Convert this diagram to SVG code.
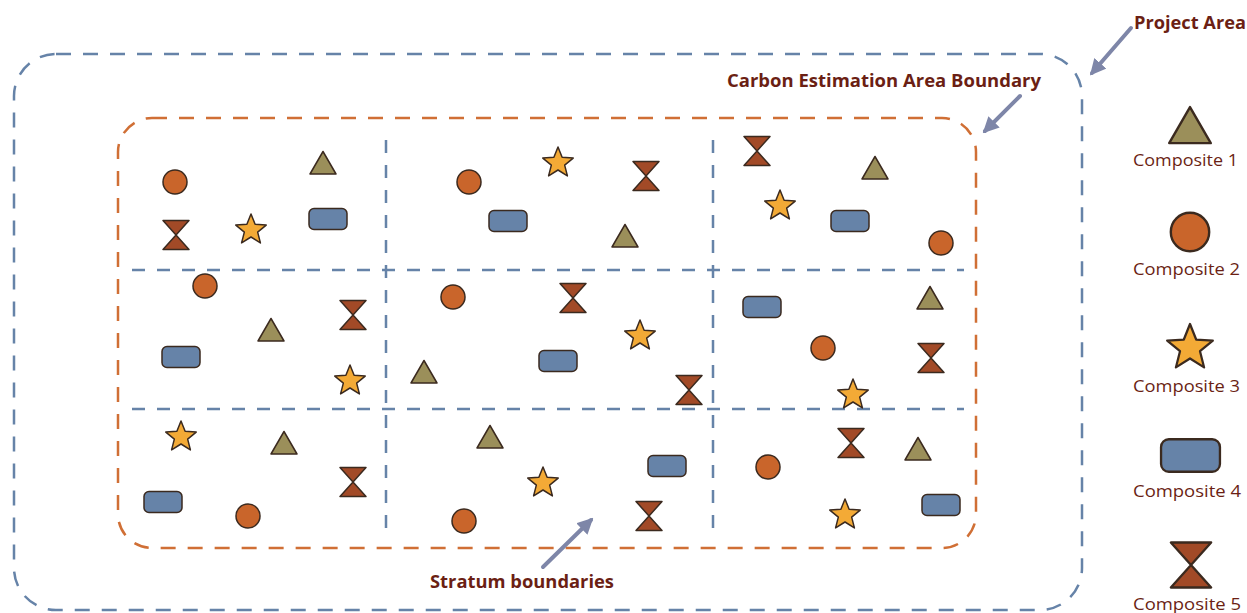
<svg xmlns="http://www.w3.org/2000/svg" xmlns:xlink="http://www.w3.org/1999/xlink" width="1247" height="613" viewBox="0 0 1247 613">
<style>
.sh{stroke:#3b2a1f;stroke-width:1.5;stroke-linejoin:round}
.tri{fill:#9b8f5a}.cir{fill:#c9652b}.sta{fill:#f3aa36}.rec{fill:#6683a8}.hg{fill:#a24a27}
.grid{fill:none;stroke:#6683a8;stroke-width:2.5;stroke-dasharray:13 12}
.outer{fill:none;stroke:#6683a8;stroke-width:2.5;stroke-dasharray:15 12}
.cea{fill:none;stroke:#d06f35;stroke-width:2.5;stroke-dasharray:15 12}
.arr{stroke:#7e86a8;stroke-width:4;fill:none;stroke-linecap:round}
.lbl{font-family:"Open Sans","Liberation Sans",sans-serif;font-weight:700;fill:#6b1f14;font-size:17px}
.leg{font-family:"Open Sans","Liberation Sans",sans-serif;fill:#6b1f14;font-size:16px}
</style>
<defs>
<path id="tri" class="sh tri" d="M0,-11.5 L13,11 L-13,11 Z"/>
<circle id="cir" class="sh cir" r="12"/>
<path id="sta" class="sh sta" d="M0,-16 L4.11,-5.66 L15.22,-4.94 L6.66,2.16 L9.4,12.94 L0,7 L-9.4,12.94 L-6.66,2.16 L-15.22,-4.94 L-4.11,-5.66 Z"/>
<rect id="rec" class="sh rec" x="-19" y="-10.5" width="38" height="21" rx="5"/>
<path id="hg" class="sh hg" d="M-13,-14.5 L13,-14.5 L0,0 L13,14.5 L-13,14.5 L0,0 Z"/>
<marker id="ah" viewBox="0 0 10 10" refX="8" refY="5" markerWidth="4" markerHeight="4" orient="auto" markerUnits="strokeWidth">
<path d="M0,0 L10,5 L0,10 Z" fill="#7e86a8"/>
</marker>
</defs>
<g id="project-area">
<rect class="outer" x="14" y="54" width="1068" height="556" rx="42"/>
</g>
<g id="carbon-estimation-area">
<rect class="cea" x="118" y="118" width="858" height="430" rx="34"/>
</g>
<g id="strata">
<line class="grid" x1="386" y1="140" x2="386" y2="530"/>
<line class="grid" x1="713" y1="140" x2="713" y2="530"/>
<line class="grid" x1="132" y1="270" x2="964" y2="270"/>
<line class="grid" x1="132" y1="409" x2="964" y2="409"/>
</g>
<g id="samples">
<use href="#cir" x="175" y="182"/><use href="#tri" x="323" y="163"/><use href="#hg" x="176" y="235"/><use href="#sta" x="251" y="230"/><use href="#rec" x="328" y="219"/>
<use href="#cir" x="469" y="182"/><use href="#sta" x="558" y="163"/><use href="#hg" x="646" y="176"/><use href="#rec" x="508" y="221"/><use href="#tri" x="625" y="236"/>
<use href="#hg" x="757" y="151"/><use href="#tri" x="875" y="168"/><use href="#sta" x="780" y="206"/><use href="#rec" x="850" y="221"/><use href="#cir" x="941" y="243"/>
<use href="#cir" x="205" y="286"/><use href="#tri" x="271" y="330"/><use href="#hg" x="353" y="315"/><use href="#rec" x="181" y="357"/><use href="#sta" x="350" y="381"/>
<use href="#cir" x="453" y="297"/><use href="#hg" x="573" y="298"/><use href="#sta" x="640" y="336"/><use href="#rec" x="558" y="361"/><use href="#tri" x="424" y="372"/><use href="#hg" x="689" y="390"/>
<use href="#rec" x="762" y="307"/><use href="#tri" x="930" y="298"/><use href="#cir" x="823" y="348"/><use href="#hg" x="931" y="358"/><use href="#sta" x="853" y="395"/>
<use href="#sta" x="181" y="437"/><use href="#tri" x="284" y="443"/><use href="#hg" x="353" y="482"/><use href="#rec" x="163" y="502"/><use href="#cir" x="248" y="516"/>
<use href="#tri" x="490" y="437"/><use href="#sta" x="543" y="483"/><use href="#rec" x="667" y="466"/><use href="#cir" x="464" y="521"/><use href="#hg" x="649" y="516"/>
<use href="#hg" x="851" y="443"/><use href="#tri" x="918" y="449"/><use href="#cir" x="768" y="467"/><use href="#rec" x="941" y="505"/><use href="#sta" x="845" y="515"/>
</g>
<g id="connectors">
<line class="arr" x1="1131" y1="28" x2="1092" y2="73" marker-end="url(#ah)"/>
<line class="arr" x1="1020" y1="96" x2="985" y2="131" marker-end="url(#ah)"/>
<line class="arr" x1="543" y1="567" x2="591" y2="520" marker-end="url(#ah)"/>
</g>
<g id="labels">
<text class="lbl" x="1134" y="29" textLength="112" lengthAdjust="spacingAndGlyphs">Project Area</text>
<text class="lbl" x="727" y="87" textLength="314" lengthAdjust="spacingAndGlyphs">Carbon Estimation Area Boundary</text>
<text class="lbl" x="430" y="588" textLength="184" lengthAdjust="spacingAndGlyphs">Stratum boundaries</text>
</g>
<g id="legend-1"><use href="#tri" transform="translate(1190,125.5) scale(1.6)"/><text class="leg" x="1133" y="166" textLength="105" lengthAdjust="spacingAndGlyphs">Composite 1</text></g>
<g id="legend-2"><use href="#cir" transform="translate(1190,232) scale(1.6)"/><text class="leg" x="1133" y="275" textLength="107" lengthAdjust="spacingAndGlyphs">Composite 2</text></g>
<g id="legend-3"><use href="#sta" transform="translate(1190,348) scale(1.5)"/><text class="leg" x="1133" y="392" textLength="107" lengthAdjust="spacingAndGlyphs">Composite 3</text></g>
<g id="legend-4"><use href="#rec" transform="translate(1190.5,455.5) scale(1.55)"/><text class="leg" x="1133" y="497" textLength="108" lengthAdjust="spacingAndGlyphs">Composite 4</text></g>
<g id="legend-5"><use href="#hg" transform="translate(1191,565) scale(1.55)"/><text class="leg" x="1133" y="610" textLength="108" lengthAdjust="spacingAndGlyphs">Composite 5</text></g>
</svg>
